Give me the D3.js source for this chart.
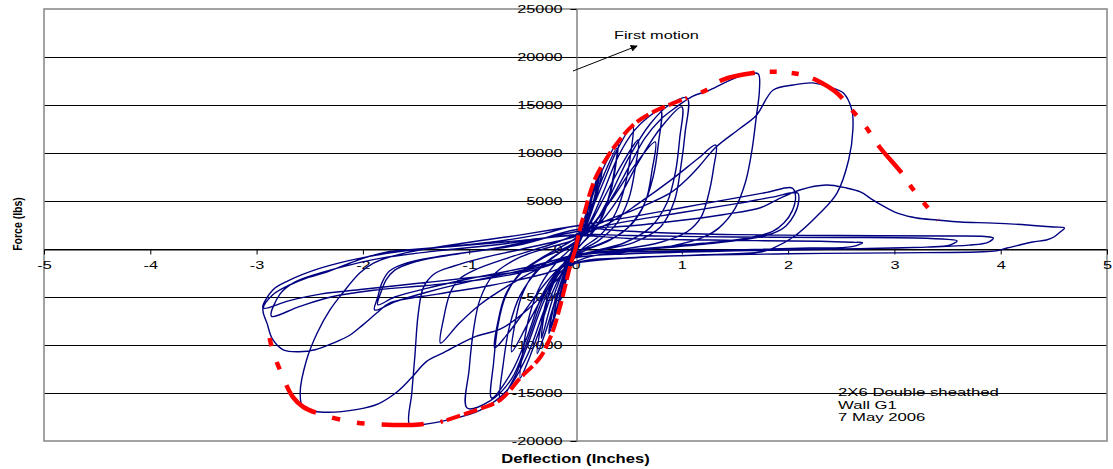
<!DOCTYPE html>
<html><head><meta charset="utf-8">
<script src="https://cdn.jsdelivr.net/npm/d3@7"></script>
<style>
body{margin:0;background:#fff}
svg{display:block}
text{font-family:"Liberation Sans",Arial,Helvetica,sans-serif;fill:#000}
</style>
</head><body>
<svg id="c" width="1113" height="469"></svg>
<script>
// ---------------- data ----------------
const xTicks = [-5,-4,-3,-2,-1,0,1,2,3,4,5];
const yTicks = [-20000,-15000,-10000,-5000,0,5000,10000,15000,20000,25000];
const xTitle = "Deflection (Inches)";
const yTitle = "Force (lbs)";
const noteLines = ["2X6 Double sheathed","Wall G1","7 May 2006"];
const notePos = [2.47,-15310];
const arrowLabel = "First motion";
const arrowFromTo = [[-0.024,18540],[0.579,21150]];
const arrowLabelPos = [0.362,21875];

// backbone (envelope) – inner part and outer part, per side
const envPosInner = [[0,0],[0.04,1980],[0.09,4000],[0.136,5830],[0.2,7700],[0.3,9580],[0.4,11150],[0.54,12900],[0.73,14270],[1.05,15730]];
const envPosOuter = [[1.05,15730],[1.24,16600],[1.38,17600],[1.67,18330],[1.92,18440],[2.14,18125],[2.3,17400],[2.46,16250],[2.6,14480],[2.72,12900],[2.86,10625],[3.07,7900],[3.18,6150],[3.41,3020]];
const envNegInner = [[0,0],[-0.052,-1875],[-0.099,-3960],[-0.146,-6040],[-0.22,-8750],[-0.33,-11250],[-0.52,-13440],[-0.71,-15730],[-0.93,-16770],[-1.27,-18020]];
const envNegOuter = [[-1.27,-18020],[-1.56,-18330],[-1.9,-18230],[-2.1,-18020],[-2.37,-17300],[-2.56,-16460],[-2.66,-15400],[-2.78,-12600],[-2.85,-10520],[-2.9,-8125]];

// hysteresis trace (deflection in, force lbs), in test order
const cyclesElastic = [[0,0],[0.04,1500],[0.08,3000],[0.12,4300],[0.09,2600],[0.04,700],[-0.02,-900],[-0.07,-2600],[-0.12,-4400],[-0.09,-2600],[-0.04,-600],[0.02,900],[0.09,3300],[0.16,5800],[0.13,3900],[0.06,1400],[-0.03,-1100],[-0.1,-3600],[-0.17,-6200],[-0.13,-4000],[-0.05,-1000],[0.03,1300],[0.12,4400],[0.21,7300],[0.17,5000],[0.09,2000],[-0.03,-1000],[-0.13,-4600],[-0.21,-7500],[-0.17,-5000],[-0.07,-1500],[0.02,700]];
const cyclesElastic2 = [[0.1,3600],[0.18,6400],[0.25,8300],[0.21,6000],[0.13,3200],[0.02,200],[-0.08,-2500],[-0.17,-5900],[-0.24,-8200],[-0.2,-5800],[-0.11,-2700],[0,0],[0.08,2800],[0.16,5900],[0.23,8200],[0.19,5600],[0.1,2300],[-0.02,-600],[-0.11,-3700],[-0.19,-6900],[-0.25,-8800],[-0.21,-6100],[-0.12,-2900],[-0.02,300]];
const cycle04 = [[0.1,3500],[0.2,6800],[0.3,9300],[0.4,11150],[0.38,8800],[0.33,5900],[0.25,3300],[0.12,1300],[0,-200],[-0.1,-2400],[-0.2,-5700],[-0.29,-8900],[-0.36,-10900],[-0.33,-8300],[-0.27,-5300],[-0.17,-2700],[-0.05,-500],[0.05,1400]];
const trail04 = [[0.15,4400],[0.27,7800],[0.39,10500],[0.36,7800],[0.29,4600],[0.18,2000],[0.04,300],[-0.1,-2000],[-0.22,-5400],[-0.32,-9300],[-0.29,-6600],[-0.22,-3800],[-0.1,-1300],[0.02,600]];
const cycle055 = [[0.12,3200],[0.26,6900],[0.4,10500],[0.54,12900],[0.52,10000],[0.47,6800],[0.38,3800],[0.24,1500],[0.08,200],[-0.08,-1600],[-0.22,-4600],[-0.35,-8800],[-0.44,-11500],[-0.52,-13440],[-0.49,-10200],[-0.43,-6800],[-0.33,-3800],[-0.18,-1400],[-0.02,300]];
const trail055 = [[0.12,2300],[0.28,5600],[0.44,8900],[0.59,11350],[0.56,8300],[0.5,5200],[0.39,2700],[0.22,900],[0.05,-200],[-0.12,-1800],[-0.3,-4800],[-0.45,-7800],[-0.6,-10700],[-0.57,-7800],[-0.51,-5000],[-0.4,-2700],[-0.22,-900],[-0.02,500]];
const cycle08 = [[0.12,2500],[0.25,5600],[0.4,9600],[0.55,12300],[0.68,13700],[0.8,14480],[0.78,11000],[0.73,7500],[0.63,4300],[0.45,1800],[0.2,400],[0,-400],[-0.15,-2200],[-0.3,-5500],[-0.45,-10000],[-0.58,-13500],[-0.71,-15730],[-0.68,-12000],[-0.62,-8000],[-0.52,-4800],[-0.35,-2200],[-0.15,-400],[0.02,800]];
const trail08 = [[0.15,2400],[0.35,5300],[0.55,8600],[0.75,11150],[0.72,8200],[0.66,5000],[0.53,2600],[0.32,900],[0.1,-100],[-0.1,-1400],[-0.3,-3800],[-0.5,-6800],[-0.65,-9000],[-0.76,-10300],[-0.73,-7600],[-0.66,-4800],[-0.52,-2600],[-0.3,-900],[-0.05,400]];
const cycle105 = [[0.15,2200],[0.3,5000],[0.5,9500],[0.7,13000],[0.88,15000],[1.05,15730],[1.03,12000],[0.99,8500],[0.93,5000],[0.8,2300],[0.55,700],[0.3,0],[0.05,-600],[-0.15,-2200],[-0.3,-5000],[-0.45,-9500],[-0.6,-13500],[-0.8,-15800],[-1.02,-16560],[-1.0,-12500],[-0.96,-8500],[-0.9,-5300],[-0.78,-2800],[-0.55,-1000],[-0.3,0],[0,1000]];
const trail105 = [[0.2,2400],[0.4,5200],[0.6,9200],[0.8,12600],[1.0,14800],[0.98,11500],[0.94,8000],[0.86,4800],[0.7,2200],[0.45,600],[0.15,-300],[-0.1,-1500],[-0.3,-4500],[-0.45,-9000],[-0.6,-12800],[-0.79,-15520],[-0.77,-11800],[-0.73,-8000],[-0.66,-5000],[-0.52,-2500],[-0.3,-800],[0,1100]];
const cycle17 = [[0.2,3000],[0.35,5500],[0.5,8500],[0.65,11500],[0.8,13500],[0.95,14800],[1.1,15900],[1.25,16500],[1.4,17300],[1.55,18000],[1.65,18300],[1.72,18230],[1.73,16500],[1.7,13700],[1.66,10300],[1.6,7000],[1.5,4200],[1.35,2200],[1.2,1200],[0.9,300],[0.5,-300],[0.1,-900],[-0.15,-2500],[-0.3,-6500],[-0.45,-11000],[-0.65,-14800],[-0.9,-16800],[-1.2,-17800],[-1.45,-18300],[-1.56,-18330],[-1.54,-15000],[-1.51,-11000],[-1.48,-6800],[-1.43,-4000],[-1.33,-2600],[-1.15,-1800],[-0.9,-1000],[-0.5,0],[0,1300]];
const trail13 = [[0.3,2600],[0.6,4800],[0.9,7200],[1.15,9400],[1.32,10830],[1.3,8500],[1.25,5600],[1.18,3300],[1.05,1800],[0.8,700],[0.4,-100],[0,-700],[-0.3,-1800],[-0.6,-3600],[-0.9,-5800],[-1.1,-7800],[-1.27,-9800],[-1.24,-7200],[-1.18,-4600],[-1.1,-3200],[-0.95,-2200],[-0.6,-800],[-0.2,600],[0,1500]];
const cycle25 = [[0.3,3000],[0.6,4300],[0.9,5900],[1.05,7300],[1.17,8700],[1.32,10600],[1.54,12500],[1.7,13900],[1.86,16560],[2.05,17080],[2.23,17300],[2.39,16870],[2.52,16250],[2.6,14480],[2.61,12500],[2.57,9300],[2.46,5830],[2.3,3750],[2.05,1250],[1.86,100],[1.74,-310],[1.2,-600],[0.6,-900],[0,-1500],[-0.2,-3500],[-0.45,-6300],[-0.7,-8300],[-0.96,-9200],[-1.24,-10800],[-1.4,-11700],[-1.55,-13500],[-1.68,-14900],[-1.85,-16100],[-2.05,-16700],[-2.37,-17000],[-2.56,-16600],[-2.59,-15000],[-2.53,-11560],[-2.43,-8750],[-2.31,-6350],[-2.19,-4580],[-2.03,-2500],[-1.9,-1460],[-1.6,-400],[-1.0,700],[-0.5,1500],[0,2400]];
const trail20a = [[0.5,3300],[1.0,4300],[1.5,5300],[1.8,5900],[2.04,6350],[2.07,5500],[2.04,4000],[1.96,2700],[1.85,1800],[1.6,1100],[1.2,600],[0.6,0],[0,-600],[-0.5,-2200],[-1.0,-3400],[-1.4,-4500],[-1.7,-5500],[-1.89,-6350],[-1.86,-5000],[-1.82,-3500],[-1.75,-2300],[-1.6,-1500],[-1.3,-800],[-0.8,0],[0,1800]];
const trail20b = [[0.5,2900],[1.0,3800],[1.5,4700],[1.85,5400],[2.09,5830],[2.1,5000],[2.06,3600],[1.98,2400],[1.85,1600],[1.6,1000],[1.2,500],[0.6,-100],[0,-700],[-0.5,-2000],[-1.0,-3100],[-1.4,-4100],[-1.7,-5000],[-1.86,-5800],[-1.83,-4500],[-1.78,-3200],[-1.7,-2200],[-1.5,-1300],[-1.1,-500],[-0.5,500],[0,2000]];
const postPeakPos = [[0.5,2400],[1.0,3000],[1.4,3600],[1.74,4300],[1.89,5100],[2.11,6150],[2.36,6670],[2.55,6350],[2.68,5940],[2.8,5100],[2.93,4270],[3.05,3650],[3.21,3230],[3.4,3020],[3.62,2810],[3.93,2700],[4.25,2500],[4.5,2290],[4.6,2190],[4.56,1770],[4.5,1250],[4.43,940],[4.3,730],[4.18,420],[4.06,100],[3.96,-200],[3.78,-310],[3.0,-400],[2.0,-500],[1.0,-700],[0.4,-1000],[0,-1500]];
const postPeakNeg = [[-0.3,-2600],[-0.8,-3800],[-1.3,-4700],[-1.75,-5630],[-1.87,-6670],[-2.0,-7900],[-2.12,-8960],[-2.28,-9800],[-2.45,-10500],[-2.6,-10700],[-2.75,-10500],[-2.85,-9400],[-2.9,-7800],[-2.94,-6200],[-2.85,-4790],[-2.69,-3750],[-2.53,-3020],[-2.34,-2400],[-2.12,-1460],[-1.96,-830],[-1.77,-310],[-1.59,-100],[-1.27,200],[-0.8,700],[-0.3,1600],[0,2400]];
const flatCycle1 = [[0.3,2000],[0.8,1700],[1.5,1500],[2.5,1400],[3.5,1350],[3.85,1300],[3.93,1150],[3.88,700],[3.7,400],[3.3,200],[2.5,0],[1.5,-200],[0.5,-500],[0,-900],[-0.4,-2200],[-0.9,-3200],[-1.4,-3800],[-1.9,-4300],[-2.3,-5000],[-2.6,-6000],[-2.86,-7000],[-2.78,-4700],[-2.65,-3500],[-2.4,-2500],[-2.1,-1600],[-1.8,-900],[-1.3,-200],[-0.7,500],[0,1500]];
const flatCycle2 = [[0.5,1400],[1.5,1250],[2.5,1200],[3.2,1150],[3.5,1000],[3.59,850],[3.52,400],[3.3,200],[2.5,0],[1.5,-200],[0.5,-500],[0,-900],[-0.5,-2300],[-1.0,-3000],[-1.5,-3600],[-2.0,-4200],[-2.4,-4700],[-2.7,-5400],[-2.94,-6150],[-2.85,-4300],[-2.7,-3300],[-2.4,-2000],[-2.0,-900],[-1.6,-200],[-1.0,400],[-0.5,900],[0,1400]];
const flatCycle3 = [[0.5,1100],[1.5,900],[2.3,800],[2.6,700],[2.7,650],[2.6,250],[2.2,100],[1.5,-100],[0.5,-300],[0,-500]];

const trace = [].concat(cyclesElastic, cyclesElastic2, cycle04, trail04, cycle055, trail055, cycle08, trail08,
  cycle105, trail105, cycle17, trail13, cycle25, trail20a, trail20b, postPeakPos, postPeakNeg,
  flatCycle1, flatCycle2, flatCycle3);

// ---------------- drawing ----------------
const svg = d3.select('#c');
const x = d3.scaleLinear().domain([-5,5]).range([44,1107]);
const y = d3.scaleLinear().domain([-20000,25000]).range([441,9]);
const snap = v => Math.round(v) + 0.5;
const SX = 1.48; // horizontal text stretch of the original picture

// horizontal gridlines
svg.append('g').selectAll('line')
  .data(yTicks.filter(t => t > -20000 && t < 25000)).join('line')
  .attr('x1', x(-5)).attr('x2', x(5))
  .attr('y1', d => snap(y(d))).attr('y2', d => snap(y(d)))
  .attr('stroke', '#000').attr('stroke-width', 1);

// plot frame
svg.append('rect')
  .attr('x', x(-5)).attr('y', y(25000))
  .attr('width', x(5) - x(-5)).attr('height', y(-20000) - y(25000))
  .attr('fill', 'none').attr('stroke', '#8c8c8c').attr('stroke-width', 1.6);

// y axis (crosses at x = 0)
const yAxis = svg.append('g').attr('transform', `translate(${snap(x(0))},0)`)
  .call(d3.axisLeft(y).tickValues(yTicks).tickSize(6).tickSizeOuter(0).tickFormat(d => String(d)));
yAxis.select('.domain').attr('stroke', '#7a7a7a').attr('stroke-width', 1.4);
yAxis.selectAll('.tick line').attr('stroke', '#000');
yAxis.selectAll('.tick text')
  .attr('x', 0).attr('dy', '0.36em')
  .attr('transform', `translate(-14,0) scale(${SX},1)`)
  .style('font-size', '11px').style('font-family', '"Liberation Sans",Arial,sans-serif');

// x axis (crosses at y = 0)
const xAxis = svg.append('g').attr('transform', `translate(0,${snap(y(0))})`)
  .call(d3.axisBottom(x).tickValues(xTicks).tickSize(5).tickSizeOuter(0).tickFormat(d => String(d)));
xAxis.select('.domain').attr('stroke', '#000');
xAxis.selectAll('.tick line').attr('stroke', '#000');
xAxis.selectAll('.tick text')
  .attr('y', 0).attr('dy', null)
  .attr('transform', `translate(0,19) scale(${SX},1)`)
  .style('font-size', '11px').style('font-family', '"Liberation Sans",Arial,sans-serif');

// hysteresis trace
const line = d3.line().x(d => x(d[0])).y(d => y(d[1])).curve(d3.curveCatmullRom.alpha(0.5));
svg.append('path').datum(trace)
  .attr('d', line).attr('fill', 'none')
  .attr('stroke', '#000080').attr('stroke-width', 1.4).attr('stroke-linejoin', 'round');

// envelope (red, thick, dashed further out)
const envLine = d3.line().x(d => x(d[0])).y(d => y(d[1])).curve(d3.curveCatmullRom.alpha(0.5));
[envPosInner, envNegInner].forEach(arr => {
  svg.append('path').datum(arr).attr('d', envLine).attr('fill', 'none')
    .attr('stroke', '#ff0000').attr('stroke-width', 4).attr('stroke-dasharray', '14,4');
});
svg.append('path').datum(envPosOuter).attr('d', envLine).attr('fill', 'none')
  .attr('stroke', '#ff0000').attr('stroke-width', 4.5)
  .attr('stroke-dasharray', '36,15,7,15,7,15').attr('stroke-dashoffset', 58);
svg.append('path').datum(envNegOuter).attr('d', envLine).attr('fill', 'none')
  .attr('stroke', '#ff0000').attr('stroke-width', 4.5)
  .attr('stroke-dasharray', '42,17,8,17,8,17').attr('stroke-dashoffset', 92);

// annotation arrow
const defs = svg.append('defs');
defs.append('marker').attr('id', 'ah').attr('viewBox', '0 0 10 10')
  .attr('refX', 9).attr('refY', 5).attr('markerWidth', 8).attr('markerHeight', 7)
  .attr('markerUnits', 'userSpaceOnUse').attr('orient', 'auto')
  .append('path').attr('d', 'M0,0 L10,5 L0,10 z').attr('fill', '#000');
svg.append('line')
  .attr('x1', x(arrowFromTo[0][0])).attr('y1', y(arrowFromTo[0][1]))
  .attr('x2', x(arrowFromTo[1][0])).attr('y2', y(arrowFromTo[1][1]))
  .attr('stroke', '#000').attr('stroke-width', 1).attr('marker-end', 'url(#ah)');
svg.append('text')
  .attr('transform', `translate(${x(arrowLabelPos[0])},${y(arrowLabelPos[1])}) scale(${SX},1)`)
  .style('font-size', '11px').text(arrowLabel);

// note
const note = svg.append('g')
  .attr('transform', `translate(${x(notePos[0])},${y(notePos[1])})`);
note.selectAll('text').data(noteLines).join('text')
  .attr('transform', (d, i) => `translate(0,${i * 12.6}) scale(1.52,1)`)
  .style('font-size', '11px').text(d => d);

// axis titles
svg.append('text')
  .attr('transform', `translate(${x(0)},463) scale(1.33,1)`)
  .attr('text-anchor', 'middle').style('font-size', '12.5px').style('font-weight', 'bold')
  .text(xTitle);
svg.append('text')
  .attr('transform', `translate(17,224) scale(1.25,1) rotate(-90)`)
  .attr('text-anchor', 'middle').attr('dy', '0.35em')
  .style('font-size', '10.5px').style('font-weight', 'bold')
  .text(yTitle);
</script>
</body></html>
